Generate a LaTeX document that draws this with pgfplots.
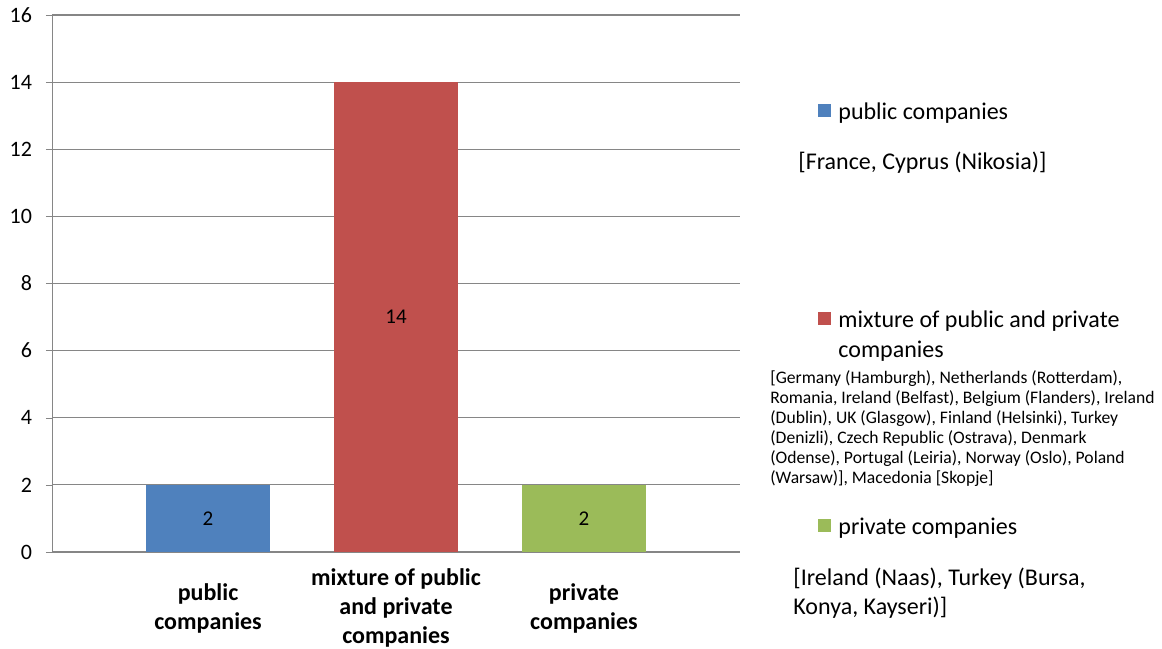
\documentclass[border=0pt]{standalone}
\usepackage{pgfplots}
\pgfplotsset{compat=1.18}
\usepackage{fontspec}
\setmainfont{Carlito}
\definecolor{cblue}{HTML}{4F81BD}
\definecolor{cred}{HTML}{C0504D}
\definecolor{cgreen}{HTML}{9BBB59}
\definecolor{cgrid}{HTML}{868686}
\begin{document}
\begin{tikzpicture}
\useasboundingbox (-26pt,-48pt) rectangle (555pt,276pt);
\begin{axis}[
  at={(0pt,0pt)}, anchor=south west,
  scale only axis, width=344pt, height=268.5pt,
  xmin=-0.83, xmax=2.83, ymin=0, ymax=16,
  ytick={0,2,...,16},
  xtick={0,1,2},
  xticklabels={public\\companies, mixture of public\\and private\\companies, private\\companies},
  axis x line=bottom, axis y line=left,
  axis line style={cgrid, -}, 
  ymajorgrids, grid style={cgrid, line width=0.6pt},
  tick style={cgrid},
  x tick style={draw=none},
  major tick length=3pt,
  tick align=outside,
  /pgf/number format/assume math mode=true,
  yticklabel style={font=\fontsize{11}{13}\selectfont, xshift=-3.5pt},
  xticklabel style={font=\fontsize{12}{14.5}\selectfont\bfseries, align=center, anchor=center, yshift=-25pt},
  ybar, bar width=62pt, bar shift=0pt,
  nodes near coords,
  visualization depends on=rawy\as\rawy,
  every node near coord/.append style={font=\fontsize{10.5}{12}\selectfont, anchor=center, shift={(axis direction cs:0,-\rawy/2)}},
]
\addplot[fill=cblue, draw=none] coordinates {(0,2)};
\addplot[fill=cred, draw=none] coordinates {(1,14)};
\addplot[fill=cgreen, draw=none] coordinates {(2,2)};
\end{axis}
% legend
\def\lf{\fontsize{12}{14}\selectfont}
\def\sf{\fontsize{8.8}{10}\selectfont}
\fill[cblue] (382.75pt,217.25pt) rectangle ++(6.5pt,6.5pt);
\node[anchor=base west, inner sep=0pt, font=\lf] at (393pt,216.3pt) {public companies};
\node[anchor=base west, inner sep=0pt, font=\lf] at (373pt,191pt) {[France, Cyprus (Nikosia)]};
\fill[cred] (382.75pt,113.25pt) rectangle ++(6.5pt,6.5pt);
\node[anchor=base west, inner sep=0pt, font=\lf] at (393pt,112pt) {mixture of public and private};
\node[anchor=base west, inner sep=0pt, font=\lf] at (393pt,97pt) {companies};
\node[anchor=base west, inner sep=0pt, font=\sf] at (359pt,84pt) {[Germany (Hamburgh), Netherlands (Rotterdam),};
\node[anchor=base west, inner sep=0pt, font=\sf] at (359pt,74pt) {Romania, Ireland (Belfast), Belgium (Flanders), Ireland};
\node[anchor=base west, inner sep=0pt, font=\sf] at (359pt,64pt) {(Dublin), UK (Glasgow), Finland (Helsinki), Turkey};
\node[anchor=base west, inner sep=0pt, font=\sf] at (359pt,54pt) {(Denizli), Czech Republic (Ostrava), Denmark};
\node[anchor=base west, inner sep=0pt, font=\sf] at (359pt,44pt) {(Odense), Portugal (Leiria), Norway (Oslo), Poland};
\node[anchor=base west, inner sep=0pt, font=\sf] at (359pt,34pt) {(Warsaw)], Macedonia [Skopje]};
\fill[cgreen] (382.75pt,9.75pt) rectangle ++(6.5pt,6.5pt);
\node[anchor=base west, inner sep=0pt, font=\lf] at (393pt,8.6pt) {private companies};
\node[anchor=base west, inner sep=0pt, font=\lf] at (370.5pt,-16.5pt) {[Ireland (Naas), Turkey (Bursa,};
\node[anchor=base west, inner sep=0pt, font=\lf] at (370.5pt,-31pt) {Konya, Kayseri)]};
\end{tikzpicture}
\end{document}
